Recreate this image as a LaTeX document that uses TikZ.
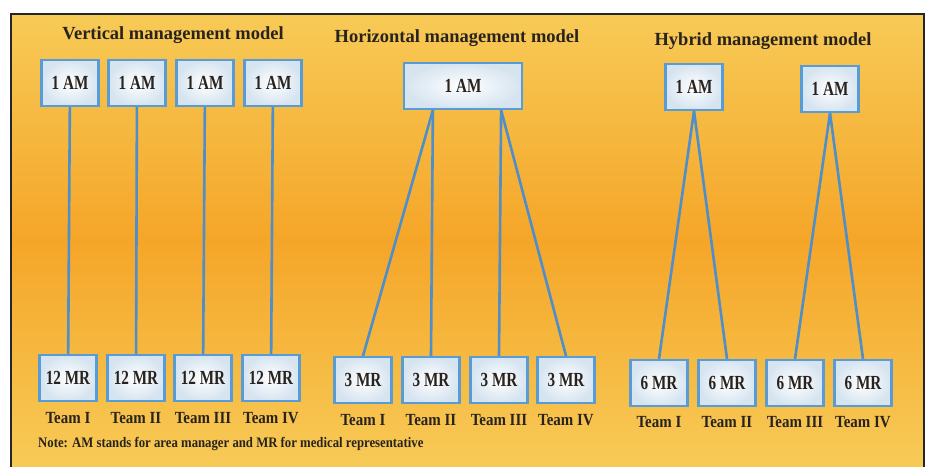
\documentclass[tikz,border=0pt]{standalone}
\usepackage{fontspec}
\setmainfont{Liberation Serif}
\newfontfamily\boxfont{Liberation Serif}[FakeStretch=0.76]
\newfontfamily\notefont{Liberation Serif}[FakeStretch=0.88]
\definecolor{boxblue}{RGB}{88,156,215}
\definecolor{boxfill}{RGB}{214,228,240}
\definecolor{linkblue}{RGB}{78,142,202}
\definecolor{ink}{RGB}{40,35,30}
\pgfdeclareverticalshading{bgband}{100bp}{
  rgb(0bp)=(0.98,0.92,0.59);
  rgb(22bp)=(0.97,0.81,0.36);
  rgb(50bp)=(0.96,0.65,0.16);
  rgb(78bp)=(0.97,0.81,0.36);
  rgb(100bp)=(0.98,0.88,0.50)}
\tikzset{
  mgr/.style={draw=boxblue, line width=2.2pt, inner color=white, outer color=boxfill,
    minimum width=57pt, minimum height=46pt, inner sep=0pt, text=ink,
    font=\boxfont\bfseries\fontsize{20}{20}\selectfont},
  rep/.style={mgr},
  title/.style={text=ink, inner sep=0pt, font=\bfseries\fontsize{18.5}{18.5}\selectfont},
  team/.style={text=ink, inner sep=0pt, font=\notefont\bfseries\fontsize{17}{17}\selectfont},
  note/.style={text=ink, inner sep=0pt, font=\notefont\bfseries\fontsize{14.5}{14.5}\selectfont},
  link/.style={draw=linkblue, line width=2.6pt}
}
\begin{document}
\begin{tikzpicture}[x=1pt, y=-1pt]
\useasboundingbox (0,0) rectangle (929,466);
% background and frame
\fill[shading=bgband] (11,14) rectangle (924,466);
\draw[line width=1.8pt, black!85] (11,480) -- (11,14) -- (924,14) -- (924,480);
% titles
\node[title] (vtitle) at (173,35) {Vertical management model};
\node[title] (htitle) at (457,38) {Horizontal management model};
\node[title] (ytitle) at (763,41) {Hybrid management model};
% vertical model
\node[mgr] (v1a) at (70,83) {1 AM};
\node[mgr] (v2a) at (137,83) {1 AM};
\node[mgr] (v3a) at (205,83) {1 AM};
\node[mgr] (v4a) at (273,83) {1 AM};
\node[rep] (v1m) at (68,378) {12 MR};
\node[rep] (v2m) at (136,378) {12 MR};
\node[rep] (v3m) at (203,378) {12 MR};
\node[rep] (v4m) at (271,378) {12 MR};
\node[team] (v1t) at (68,418) {Team I};
\node[team] (v2t) at (136,418) {Team II};
\node[team] (v3t) at (203,418) {Team III};
\node[team] (v4t) at (271,418) {Team IV};
\draw[link] (v1a) -- (v1m);
\draw[link] (v2a) -- (v2m);
\draw[link] (v3a) -- (v3m);
\draw[link] (v4a) -- (v4m);
% horizontal model
\node[mgr, minimum width=118pt] (h0) at (463,86) {1 AM};
\node[rep] (h1m) at (363,380) {3 MR};
\node[rep] (h2m) at (431,380) {3 MR};
\node[rep] (h3m) at (499,380) {3 MR};
\node[rep] (h4m) at (566,380) {3 MR};
\node[team] (h1t) at (363,420) {Team I};
\node[team] (h2t) at (431,420) {Team II};
\node[team] (h3t) at (499,420) {Team III};
\node[team] (h4t) at (566,420) {Team IV};
\draw[link] ([xshift=30pt]h0.south west) -- (h1m.north);
\draw[link] ([xshift=30pt]h0.south west) -- (h2m.north);
\draw[link] ([xshift=-22pt]h0.south east) -- (h3m.north);
\draw[link] ([xshift=-22pt]h0.south east) -- (h4m.north);
% hybrid model
\node[mgr] (y1a) at (694,87) {1 AM};
\node[mgr] (y2a) at (830,89) {1 AM};
\node[rep] (y1m) at (659,383) {6 MR};
\node[rep] (y2m) at (727,383) {6 MR};
\node[rep] (y3m) at (795,383) {6 MR};
\node[rep] (y4m) at (863,383) {6 MR};
\node[team] (y1t) at (659,422) {Team I};
\node[team] (y2t) at (727,422) {Team II};
\node[team] (y3t) at (795,422) {Team III};
\node[team] (y4t) at (863,422) {Team IV};
\draw[link] (y1a.south) -- (y1m.north);
\draw[link] (y1a.south) -- (y2m.north);
\draw[link] (y2a.south) -- (y3m.north);
\draw[link] (y2a.south) -- (y4m.north);
% note
\node[note, anchor=west] (note) at (38,444) {Note: AM stands for area manager and MR for medical representative};
\end{tikzpicture}
\end{document}
